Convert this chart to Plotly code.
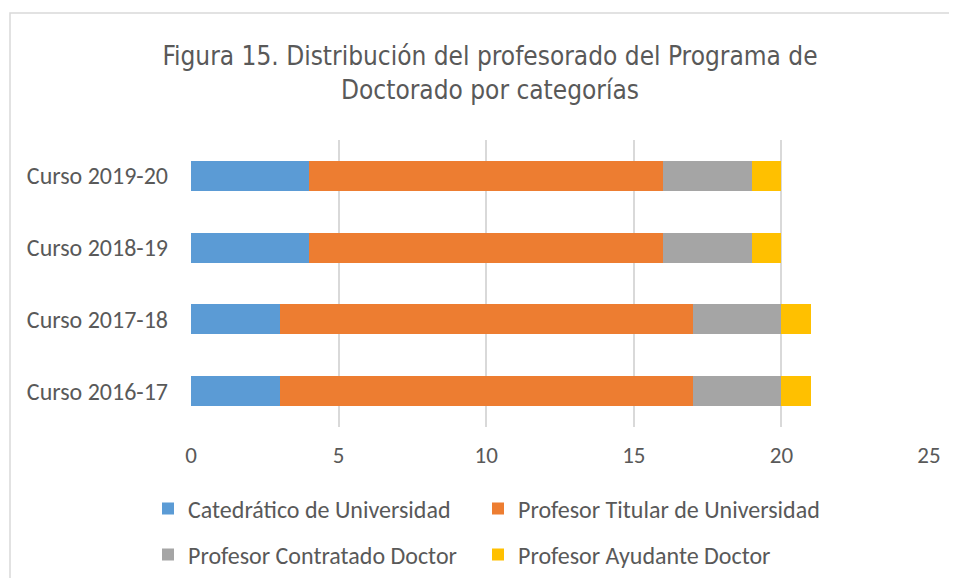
import plotly.graph_objects as go

categories = ["Curso 2016-17", "Curso 2017-18", "Curso 2018-19", "Curso 2019-20"]
series_names = ["Catedrático de Universidad", "Profesor Titular de Universidad",
                "Profesor Contratado Doctor", "Profesor Ayudante Doctor"]
catedratico = [3, 3, 4, 4]
titular = [14, 14, 12, 12]
contratado = [3, 3, 3, 3]
ayudante = [1, 1, 1, 1]
colors = ["#5B9BD5", "#ED7D31", "#A5A5A5", "#FFC000"]
x_ticks = [0, 5, 10, 15, 20, 25]

# page offset: the html body has an 8px default margin
O = 8
W, H = 957 - O, 578 - O
L, R, T, B = 191 - O, 28, 140 - O, 151
pw = W - L - R
ph = H - T - B

font_tick = "Carlito, Calibri, Lato, 'Open Sans', sans-serif"
legend_ids = ["legend", "legend2", "legend3", "legend4"]
legend_pos = [(148, 509), (478, 509), (148, 555), (478, 555)]

fig = go.Figure()
for name, vals, c, lg in zip(series_names, [catedratico, titular, contratado, ayudante], colors, legend_ids):
    fig.add_trace(go.Bar(y=categories, x=vals, name=name, orientation="h", legend=lg,
                         marker=dict(color=c, line=dict(width=0)), width=0.42))

legend_common = dict(orientation="h", xanchor="left", yanchor="middle", xref="container", yref="container",
                     font=dict(family=font_tick, size=24, color="#595959"),
                     itemwidth=30, bgcolor="rgba(0,0,0,0)")
legends = {lg: dict(legend_common, x=(px - O) / W, y=1 - (py - O) / H)
           for lg, (px, py) in zip(legend_ids, legend_pos)}

fig.update_layout(
    width=W, height=H, barmode="stack",
    margin=dict(l=L, r=R, t=T, b=B, autoexpand=False),
    paper_bgcolor="white", plot_bgcolor="white",
    title=dict(text="Figura 15. Distribución del profesorado del Programa de<br>Doctorado por categorías",
               x=(490 - O) / W, xref="container", xanchor="center",
               y=1 - (65 - O) / H, yref="container", yanchor="top",
               font=dict(family="'Liberation Sans Narrow', 'Arial Narrow', 'DejaVu Sans Condensed', sans-serif",
                         size=26, color="#595959")),
    xaxis=dict(range=[0, 25], tickvals=x_ticks, showgrid=True, gridcolor="#D9D9D9", gridwidth=1.5,
               zeroline=False, showline=False, ticks="", automargin=False,
               tickfont=dict(family=font_tick, size=23, color="#595959"), ticklabelstandoff=12),
    yaxis=dict(showgrid=False, zeroline=False, showline=False, ticks="", automargin=False,
               tickfont=dict(family=font_tick, size=24, color="#595959"), ticklabelstandoff=22),
    showlegend=True,
    **legends,
)
fig.add_shape(type="rect", xref="paper", yref="paper",
              x0=(10 - O - L) / pw, x1=(W + 5 - L) / pw,
              y0=-(H + 5 - T - ph) / ph, y1=1 + (T - (13 - O)) / ph,
              line=dict(color="#D9D9D9", width=1.5), fillcolor="rgba(0,0,0,0)", layer="below")
fig.write_html("out.html")
